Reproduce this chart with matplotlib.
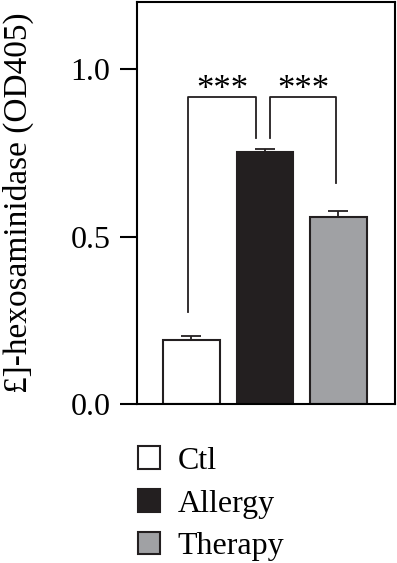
import matplotlib
matplotlib.use("Agg")
import matplotlib.pyplot as plt
from matplotlib.patches import Patch

plt.rcParams['font.family'] = ['Liberation Serif', 'DejaVu Serif']

# data
groups = ['Ctl', 'Allergy', 'Therapy']
means = [0.191, 0.753, 0.558]
errs = [0.012, 0.009, 0.018]
colors = ['white', '#231f20', '#a0a1a4']

# significance brackets: (left x, right x, left leg bottom, right leg bottom, label)
brackets = [(-0.05, 0.88, 0.275, 0.794, '***'),
            (1.07, 1.97, 0.794, 0.66, '***')]
bracket_top = 0.917

fig = plt.figure(figsize=(3.97, 5.63), dpi=100)
ax = fig.add_axes([0.345, 0.2824, 0.65, 0.714])

x = range(len(groups))
ax.bar(x, means, width=0.77, color=colors, edgecolor='#231f20', linewidth=1.5, zorder=2)
ax.errorbar(x, means, yerr=[[0, 0, 0], errs], fmt='none', ecolor='#231f20',
            elinewidth=1.3, capsize=7, capthick=1.3, zorder=1)

for x0, x1, y0, y1, lab in brackets:
    ax.plot([x0, x0, x1, x1], [y0, bracket_top, bracket_top, y1], color='#231f20', lw=1.3)
    ax.text((x0 + x1) / 2, bracket_top - 0.006, lab, ha='center', va='baseline', fontsize=25)

ax.set_xlim(-0.74, 2.77)
ax.set_ylim(0, 1.2)
ax.set_yticks([0.0, 0.5, 1.0])
ax.set_yticklabels(['0.0', '0.5', '1.0'])
ax.set_xticks([])
ax.tick_params(axis='y', length=12, width=1.5, labelsize=23, pad=7)
for s in ax.spines.values():
    s.set_linewidth(1.5)
ax.set_ylabel('£]-hexosaminidase (OD405)', fontsize=24, labelpad=26)

handles = [Patch(facecolor=c, edgecolor='#231f20', linewidth=1.5) for c in colors]
fig.legend(handles, groups, loc='upper left', bbox_to_anchor=(0.275, 0.258),
           frameon=False, fontsize=23, handlelength=0.7, handleheight=0.7,
           handletextpad=0.55, labelspacing=0.42)

fig.savefig('out.png', dpi=100)
